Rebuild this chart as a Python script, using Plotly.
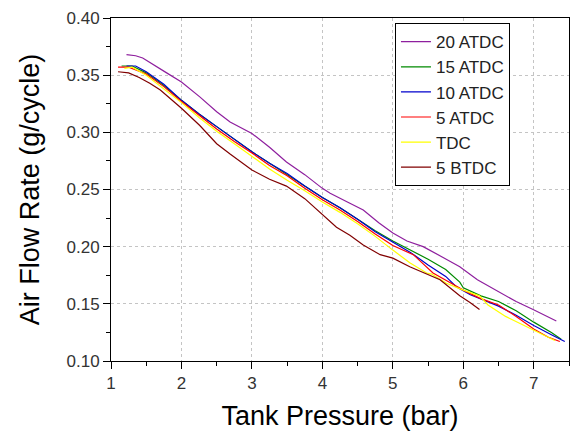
import plotly.graph_objects as go

# ---- data ----
x_20atdc = [1.22, 1.35, 1.45, 1.55, 1.79, 2.0, 2.26, 2.5, 2.69, 3.0, 3.25, 3.49, 3.75, 4.0, 4.11, 4.39, 4.58, 4.8, 5.0, 5.2, 5.43, 5.7, 5.95, 6.2, 6.52, 6.75, 6.99, 7.15, 7.32]
y_20atdc = [0.368, 0.367, 0.365, 0.361, 0.352, 0.344, 0.331, 0.318, 0.309, 0.299, 0.287, 0.274, 0.263, 0.251, 0.2467, 0.238, 0.232, 0.221, 0.212, 0.205, 0.200, 0.191, 0.1825, 0.171, 0.160, 0.152, 0.145, 0.140, 0.135]

x_15atdc = [1.15, 1.3, 1.5, 1.75, 2.0, 2.25, 2.5, 2.75, 3.0, 3.25, 3.5, 3.75, 4.0, 4.25, 4.5, 4.75, 5.0, 5.25, 5.5, 5.75, 5.95, 6.0, 6.25, 6.5, 6.75, 7.0, 7.25, 7.39]
y_15atdc = [0.358, 0.358, 0.352, 0.341, 0.328, 0.316, 0.305, 0.294, 0.283, 0.273, 0.263, 0.253, 0.243, 0.234, 0.224, 0.214, 0.205, 0.197, 0.189, 0.180, 0.169, 0.164, 0.157, 0.152, 0.144, 0.134, 0.125, 0.119]

x_10atdc = [1.22, 1.35, 1.5, 1.75, 2.0, 2.25, 2.5, 2.75, 3.0, 3.25, 3.5, 3.75, 4.0, 4.25, 4.5, 4.75, 5.0, 5.25, 5.5, 5.75, 5.9, 6.1, 6.3, 6.5, 6.75, 7.0, 7.25, 7.44]
y_10atdc = [0.358, 0.358, 0.353, 0.342, 0.328, 0.316, 0.305, 0.294, 0.283, 0.273, 0.264, 0.253, 0.243, 0.234, 0.224, 0.213, 0.204, 0.195, 0.184, 0.174, 0.165, 0.158, 0.153, 0.148, 0.140, 0.131, 0.123, 0.117]

x_5atdc = [1.1, 1.25, 1.5, 1.75, 2.0, 2.25, 2.5, 2.75, 3.0, 3.25, 3.5, 3.75, 4.0, 4.25, 4.5, 4.75, 5.0, 5.29, 5.57, 5.86, 6.0, 6.23, 6.5, 6.75, 7.0, 7.2, 7.37]
y_5atdc = [0.357, 0.357, 0.351, 0.340, 0.327, 0.315, 0.303, 0.292, 0.282, 0.271, 0.262, 0.251, 0.241, 0.232, 0.222, 0.211, 0.201, 0.193, 0.177, 0.167, 0.162, 0.155, 0.149, 0.139, 0.128, 0.121, 0.117]

x_tdc = [1.19, 1.3, 1.5, 1.75, 2.0, 2.25, 2.5, 2.75, 3.0, 3.25, 3.5, 3.75, 4.0, 4.25, 4.5, 4.75, 5.0, 5.24, 5.48, 5.55, 5.76, 6.0, 6.23, 6.35, 6.6, 6.8, 7.01, 7.2, 7.3]
y_tdc = [0.356, 0.357, 0.350, 0.338, 0.326, 0.313, 0.301, 0.290, 0.279, 0.268, 0.258, 0.249, 0.239, 0.230, 0.220, 0.209, 0.197, 0.186, 0.177, 0.176, 0.168, 0.162, 0.157, 0.149, 0.139, 0.133, 0.126, 0.121, 0.118]

x_5btdc = [1.1, 1.25, 1.4, 1.55, 1.7, 1.85, 2.0, 2.26, 2.5, 2.69, 3.0, 3.25, 3.49, 3.75, 4.0, 4.2, 4.39, 4.58, 4.82, 5.0, 5.24, 5.52, 5.67, 5.95, 6.1, 6.23]
y_5btdc = [0.353, 0.352, 0.348, 0.343, 0.337, 0.329, 0.321, 0.306, 0.290, 0.281, 0.267, 0.259, 0.253, 0.242, 0.228, 0.217, 0.210, 0.2015, 0.193, 0.190, 0.1825, 0.175, 0.171, 0.157, 0.151, 0.145]

series_names = ["20 ATDC", "15 ATDC", "10 ATDC", "5 ATDC", "TDC", "5 BTDC"]
series_x = [x_20atdc, x_15atdc, x_10atdc, x_5atdc, x_tdc, x_5btdc]
series_y = [y_20atdc, y_15atdc, y_10atdc, y_5atdc, y_tdc, y_5btdc]
colors = ["#8e1f9e", "#008a00", "#0000cc", "#ff0000", "#ffff00", "#800000"]

x_ticks = [1, 2, 3, 4, 5, 6, 7]
y_ticks = [0.10, 0.15, 0.20, 0.25, 0.30, 0.35, 0.40]

FONT = "Liberation Sans, Arial, sans-serif"

fig = go.Figure()
for name, xs, ys, c in zip(series_names, series_x, series_y, colors):
    fig.add_trace(go.Scatter(x=xs, y=ys, mode="lines", name=name,
                             line=dict(color=c, width=1.2)))

axis_common = dict(
    showline=True, linecolor="black", linewidth=1, mirror=True,
    ticks="outside", ticklen=7, tickcolor="black", tickwidth=1,
    showgrid=True, gridcolor="#c4c4c4", griddash="dot", gridwidth=1,
    zeroline=False,
    tickfont=dict(family=FONT, size=17, color="#333333"),
)

fig.update_xaxes(range=[1, 7.5], tickvals=x_ticks, ticktext=[str(v) for v in x_ticks],
                 minor=dict(ticks="outside", ticklen=4, dtick=0.5, tick0=1, tickcolor="black", showgrid=False),
                 title=dict(text="Tank Pressure (bar)", font=dict(family=FONT, size=27, color="black"), standoff=13),
                 **axis_common)
fig.update_yaxes(range=[0.10, 0.40], tickvals=y_ticks, ticktext=[f"{v:.2f}" for v in y_ticks],
                 minor=dict(ticks="outside", ticklen=4, dtick=0.025, tick0=0.1, tickcolor="black", showgrid=False),
                 title=dict(text="Air Flow Rate (g/cycle)", font=dict(family=FONT, size=27, color="black"), standoff=19),
                 **axis_common)

fig.update_layout(
    width=571, height=431,
    margin=dict(l=111, r=2, t=18, b=70),
    paper_bgcolor="white", plot_bgcolor="white",
    font=dict(family=FONT),
    legend=dict(x=0.62, y=0.985, xanchor="left", yanchor="top",
                bgcolor="white", bordercolor="black", borderwidth=1,
                font=dict(family=FONT, size=17, color="#222222"),
                tracegroupgap=0, itemwidth=30),
)

fig.write_html("out.html")
